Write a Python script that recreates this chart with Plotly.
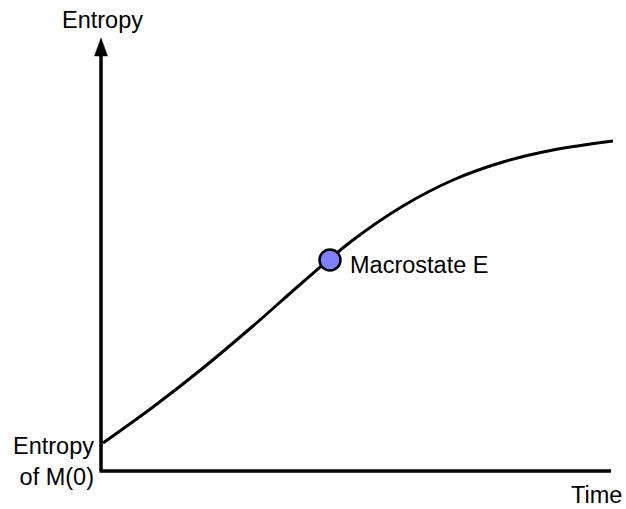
import plotly.graph_objects as go

# entropy curve (arbitrary units, origin at the axes corner)
time = [2, 52, 102, 152, 202, 252, 302, 352, 402, 452, 512]
entropy = [28, 64, 103, 145, 189, 231, 265, 291, 309, 321, 330]

macro_t = [229]
macro_s = [211]

T_MAX = 510
S_MAX = 433
FONT = "Liberation Sans, Arial, sans-serif"

fig = go.Figure()

fig.add_trace(go.Scatter(
    x=time, y=entropy, mode="lines",
    line=dict(color="black", width=3, shape="spline", smoothing=1.0),
    hoverinfo="skip",
))
fig.add_trace(go.Scatter(
    x=macro_t, y=macro_s, mode="markers",
    marker=dict(size=21, color="#8080ff", line=dict(color="black", width=2.5)),
    hoverinfo="skip",
))

# axes
fig.add_shape(type="line", x0=0, y0=0, x1=0, y1=S_MAX - 16,
              line=dict(color="black", width=3.5))
fig.add_shape(type="line", x0=-1.5, y0=0, x1=T_MAX, y1=0,
              line=dict(color="black", width=3.5))
fig.add_shape(type="path",
              path=f"M 0 {S_MAX} L -6.5 {S_MAX - 18} L 6.5 {S_MAX - 18} Z",
              fillcolor="black", line=dict(color="black", width=0.5))

txt = dict(showarrow=False, font=dict(family=FONT, size=23.5, color="black"))
fig.add_annotation(x=1, y=451, text="Entropy", xanchor="center", yanchor="middle", **txt)
fig.add_annotation(x=523, y=-24, text="Time", xanchor="right", yanchor="middle", **txt)
fig.add_annotation(x=macro_t[0] + 18, y=macro_s[0] - 5, text="Macrostate E",
                   xanchor="left", yanchor="middle", **txt)
fig.add_annotation(x=-5, y=10, text="Entropy<br>of M(0)", xanchor="right",
                   yanchor="middle", align="right", **txt)

fig.update_layout(
    width=626, height=509,
    margin=dict(l=0, r=0, t=0, b=0),
    paper_bgcolor="white", plot_bgcolor="white",
    showlegend=False,
    xaxis=dict(range=[-101, 525], visible=False, fixedrange=True),
    yaxis=dict(range=[-38, 471], visible=False, fixedrange=True),
)

# drop the default 8px body margin so the figure fills the window
fig.write_html("out.html", config={"displayModeBar": False},
               post_script="document.body.style.margin = '0px';")
